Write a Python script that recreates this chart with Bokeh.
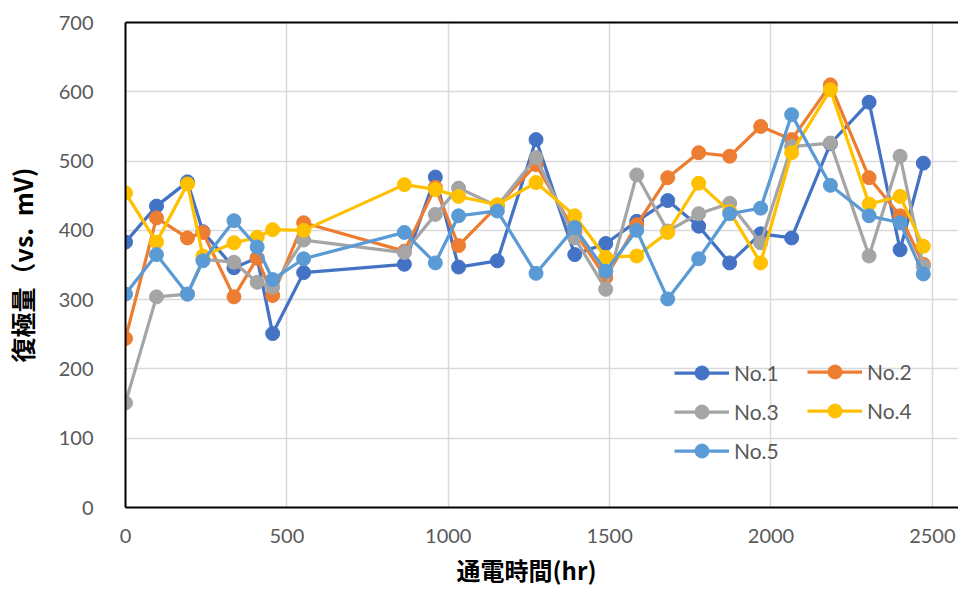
from bokeh.plotting import figure
from bokeh.models import Legend, LegendItem, LinearAxis, Range1d, FixedTicker, Title
from bokeh.embed import file_html
from bokeh.resources import INLINE

# ---- data ----
hours = [0, 96, 192, 240, 336, 408, 456, 552, 864, 960, 1032, 1152, 1272,
         1392, 1488, 1584, 1680, 1776, 1872, 1968, 2064, 2184, 2304, 2400, 2472]
no1 = [383, 435, 470, 398, 346, 360, 251, 339, 351, 477, 347, 356, 531,
       365, 381, 413, 443, 406, 353, 395, 389, 525, 585, 372, 497]
no2 = [244, 418, 389, 397, 304, 360, 306, 411, 370, 462, 378, 435, 495,
       398, 332, 408, 476, 512, 507, 550, 531, 610, 476, 421, 351]
no3 = [151, 304, 308, 358, 354, 325, 318, 386, 368, 423, 461, 435, 505,
       389, 315, 480, 399, 424, 439, 382, 521, 526, 363, 507, 348]
no4 = [454, 383, 467, 363, 382, 390, 401, 400, 466, 459, 449, 437, 469,
       421, 361, 363, 397, 468, 427, 353, 512, 603, 438, 449, 377]
no5 = [308, 365, 308, 356, 414, 376, 329, 359, 397, 353, 421, 428, 338,
       404, 341, 400, 301, 359, 424, 432, 567, 465, 421, 411, 337]
series_names = ["No.1", "No.2", "No.3", "No.4", "No.5"]
series_values = [no1, no2, no3, no4, no5]
colors = ["#4472C4", "#ED7D31", "#A5A5A5", "#FFC000", "#5B9BD5"]
x_ticks = [0, 500, 1000, 1500, 2000, 2500]
y_ticks = [0, 100, 200, 300, 400, 500, 600, 700]
x_title = "通電時間(hr)"
y_title = "復極量（vs.\u00a0\u00a0mV)"

p = figure(width=958, height=590,
           x_range=Range1d(0, 2581), y_range=Range1d(0, 700),
           output_backend="svg", toolbar_location=None,
           min_border_left=122, min_border_right=0,
           min_border_top=22, min_border_bottom=82)
p.outline_line_color = None
p.background_fill_color = "white"

# axes
for ax in (p.xaxis[0], p.yaxis[0]):
    ax.axis_line_color = "black"
    ax.axis_line_width = 2
    ax.major_tick_line_color = None
    ax.minor_tick_line_color = None
    ax.major_label_text_color = "#595959"
    ax.major_label_text_font_size = "20px"
    ax.major_label_text_font = "Lato"

p.xaxis.ticker = FixedTicker(ticks=x_ticks)
p.yaxis.ticker = FixedTicker(ticks=y_ticks)
p.yaxis.axis_label = y_title
p.yaxis.axis_label_text_font = "Noto Sans CJK JP"
p.yaxis.axis_label_text_font_style = "bold"
p.yaxis.axis_label_text_color = "#000000"
p.yaxis.axis_label_text_font_size = "25px"
p.xaxis.major_label_standoff = 15
p.yaxis.major_label_standoff = 26
p.yaxis.axis_label_standoff = 16

# x-axis title as a "below" title so it can be shifted like the reference
xt = Title(text=x_title, align="left", offset=331, standoff=8,
           text_line_height=0.75,
           text_font="Noto Sans CJK JP", text_font_style="bold",
           text_font_size="24px", text_color="#000000")
p.add_layout(xt, "below")

top = LinearAxis(ticker=FixedTicker(ticks=[]), axis_line_color="black",
                 axis_line_width=2, major_tick_line_color=None,
                 minor_tick_line_color=None, major_label_text_font_size="0px")
p.add_layout(top, "above")

p.xgrid.ticker = FixedTicker(ticks=x_ticks)
p.ygrid.ticker = FixedTicker(ticks=y_ticks)
p.xgrid.grid_line_color = "#D9D9D9"
p.ygrid.grid_line_color = "#D9D9D9"
p.xgrid.grid_line_width = 1.5
p.ygrid.grid_line_width = 1.5

items = {}
for name, vals, col in zip(series_names, series_values, colors):
    r1 = p.line(hours, vals, line_color=col, line_width=3.25)
    r2 = p.scatter(hours, vals, marker="circle", size=14,
                   fill_color=col, line_color=col)
    items[name] = LegendItem(label=name, renderers=[r1, r2])

common = dict(glyph_width=55, glyph_height=35, label_standoff=5, spacing=4,
              padding=0, margin=0, border_line_color=None,
              background_fill_alpha=0, label_text_font_size="21px",
              label_text_color="#595959", label_text_font="Lato",
              label_height=35)
leg1 = Legend(items=[items["No.1"], items["No.3"], items["No.5"]],
              location=(549, 39), **common)
leg2 = Legend(items=[items["No.2"], items["No.4"]],
              location=(682, 79), **common)
p.add_layout(leg1)
p.add_layout(leg2)

open("out.html", "w").write(file_html(p, INLINE))
